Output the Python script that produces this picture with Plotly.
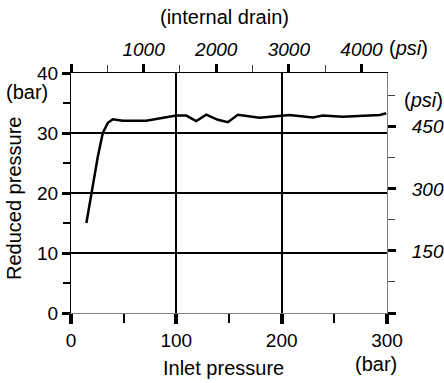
import plotly.graph_objects as go

# Data (bar)
inlet_bar = [14.6, 20.7, 25.4, 30.2, 35.0, 39.7, 49.2, 71.4, 80.9, 99.9, 109.4, 118.9, 128.4,
             139.4, 148.9, 158.4, 179.0, 199.6, 207.5, 229.6, 239.0, 258.0, 293.0, 299.3]
reduced_bar = [15.0, 21.6, 26.0, 30.0, 31.7, 32.3, 32.05, 32.05, 32.3, 32.9, 32.9, 32.0, 33.05,
               32.2, 31.8, 33.05, 32.55, 32.8, 33.0, 32.6, 32.9, 32.7, 33.0, 33.3]

x_ticks = [0, 100, 200, 300]
y_ticks = [0, 10, 20, 30, 40]
psi_top_ticks = [0, 1000, 2000, 3000, 4000]
psi_top_labels = ["", "1000", "2000", "3000", "4000"]
psi_right_ticks = [0, 150, 300, 450]
psi_right_labels = ["", "150", "300", "450"]

BAR_TO_PSI = 14.5038
X_MAX = 300
Y_MAX = 40

FONT = "Liberation Sans, Arial, sans-serif"

fig = go.Figure()
fig.add_trace(go.Scatter(x=inlet_bar, y=reduced_bar, mode="lines",
                         line=dict(color="black", width=2.5), showlegend=False,
                         hoverinfo="skip"))
# dummy trace for secondary axes
fig.add_trace(go.Scatter(x=[None], y=[None], xaxis="x2", yaxis="y2", showlegend=False))

tickfont = dict(family=FONT, size=19, color="black")

fig.update_layout(
    width=444, height=383,
    margin=dict(l=71, r=57, t=73, b=70, autoexpand=False),
    paper_bgcolor="white", plot_bgcolor="white",
    font=dict(family=FONT, color="black"),
    xaxis=dict(range=[0, X_MAX], tickvals=x_ticks, showgrid=True, gridcolor="black", gridwidth=2,
               zeroline=False, showline=True, linecolor="#808080", linewidth=1,
               ticks="outside", ticklen=10, tickwidth=4, tickcolor="black",
               minor=dict(dtick=50, ticks="outside", ticklen=9, tickwidth=1.5, tickcolor="black", showgrid=False),
               tickfont=tickfont, fixedrange=True, automargin=False),
    yaxis=dict(range=[0, Y_MAX], tickvals=y_ticks, showgrid=True, gridcolor="black", gridwidth=2,
               zeroline=False, showline=True, linecolor="black", linewidth=1,
               ticks="outside", ticklen=8, tickwidth=3, tickcolor="black",
               minor=dict(dtick=5, ticks="outside", ticklen=7, tickwidth=1.5, tickcolor="black", showgrid=False),
               tickfont=tickfont, fixedrange=True, automargin=False),
    xaxis2=dict(range=[0, X_MAX * BAR_TO_PSI], overlaying="x", side="top", anchor="y",
                tickvals=psi_top_ticks, ticktext=[f"<i>{t}</i>" if t else "" for t in psi_top_labels],
                showgrid=False, zeroline=False, showline=True, linecolor="black", linewidth=1,
                ticks="outside", ticklen=8, tickwidth=3, tickcolor="black",
                minor=dict(dtick=500, ticks="outside", ticklen=7, tickwidth=1, tickcolor="#444", showgrid=False),
                tickfont=tickfont, fixedrange=True, automargin=False),
    yaxis2=dict(range=[0, Y_MAX * BAR_TO_PSI], overlaying="y", side="right", anchor="x",
                tickvals=psi_right_ticks, ticktext=[f"<i>{t}</i>" if t else "" for t in psi_right_labels],
                showgrid=False, zeroline=False, showline=True, linecolor="#808080", linewidth=1,
                ticks="outside", ticklen=8, tickwidth=3, tickcolor="black",
                ticklabelstandoff=12,
                minor=dict(dtick=75, ticks="outside", ticklen=7, tickwidth=1, tickcolor="#444", showgrid=False),
                tickfont=tickfont, fixedrange=True, automargin=False),
)

ann = dict(showarrow=False, font=dict(family=FONT, size=20, color="black"))
fig.add_annotation(text="(internal drain)", xref="paper", yref="paper", x=0.487, y=1.0, yshift=56,
                   xanchor="center", yanchor="middle", **ann)
fig.add_annotation(text="(<i>psi</i>)", xref="paper", yref="paper", x=1.0, y=1.0, yshift=25, xshift=21,
                   xanchor="center", yanchor="middle", **ann)
fig.add_annotation(text="(bar)", xref="paper", yref="paper", x=0.0, y=1.0, xshift=-44, yshift=-19,
                   xanchor="center", yanchor="middle", **ann)
fig.add_annotation(text="Reduced pressure", xref="paper", yref="paper", x=0.0, y=0.5, xshift=-57, yshift=-6,
                   textangle=-90, xanchor="center", yanchor="middle", **ann)
fig.add_annotation(text="(<i>psi</i>)", xref="paper", yref="paper", x=1.0, y=1.0, xshift=36, yshift=-27,
                   xanchor="center", yanchor="middle", **ann)
fig.add_annotation(text="Inlet pressure", xref="paper", yref="paper", x=0.5, y=0.0, xshift=-6, yshift=-55,
                   xanchor="center", yanchor="middle", **ann)
fig.add_annotation(text="(bar)", xref="paper", yref="paper", x=1.0, y=0.0, xshift=-11, yshift=-51,
                   xanchor="center", yanchor="middle", **ann)

fig.write_html("out.html", config={"displayModeBar": False},
               post_script="document.body.style.margin='0';")
